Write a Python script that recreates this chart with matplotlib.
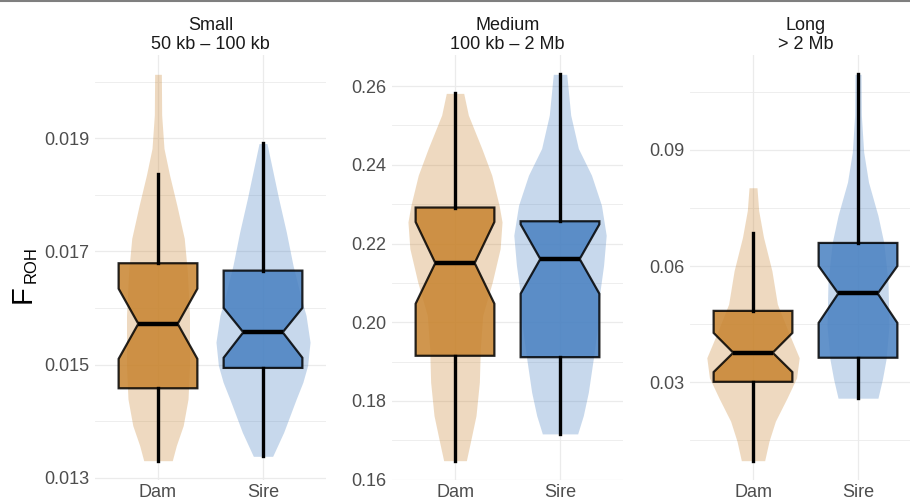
import matplotlib.pyplot as plt
from matplotlib.lines import Line2D
from matplotlib.ticker import AutoMinorLocator
import numpy as np

plt.rcParams['font.family'] = ['Liberation Sans', 'DejaVu Sans']

# facet titles and groups
panels = ["Small\n50 kb \u2013 100 kb", "Medium\n100 kb \u2013 2 Mb", "Long\n> 2 Mb"]
groups = ["Dam", "Sire"]

# notched box stats
small_dam = dict(q1=0.01458, med=0.01572, q3=0.01679, cilo=0.01510, cihi=0.01634, whislo=0.01330, whishi=0.01836)
small_sire = dict(q1=0.01494, med=0.01557, q3=0.01666, cilo=0.01512, cihi=0.01600, whislo=0.01338, whishi=0.01891)
medium_dam = dict(q1=0.19148, med=0.21504, q3=0.22914, cilo=0.20471, cihi=0.22547, whislo=0.16483, whishi=0.25814)
medium_sire = dict(q1=0.19112, med=0.21606, q3=0.22565, cilo=0.20725, cihi=0.22487, whislo=0.17163, whishi=0.26298)
long_dam = dict(q1=0.03008, med=0.0376, q3=0.04841, cilo=0.03259, cihi=0.04271, whislo=0.0097, whishi=0.06856)
long_sire = dict(q1=0.0363, med=0.0529, q3=0.06596, cilo=0.0453, cihi=0.0600, whislo=0.02585, whishi=0.10953)

# violin outlines: F_ROH level and half width (in category units)
small_dam_y = [0.01330, 0.01357, 0.01392, 0.01439, 0.01498, 0.01587, 0.01663, 0.01723, 0.01781, 0.01835, 0.01882, 0.01941, 0.02013]
small_dam_w = [0.136, 0.175, 0.24, 0.286, 0.30, 0.30, 0.28, 0.25, 0.18, 0.11, 0.057, 0.035, 0.032]
small_sire_y = [0.013377, 0.013802, 0.014393, 0.014687, 0.014982, 0.015395, 0.015867, 0.016163, 0.016752, 0.017342, 0.017933, 0.018906]
small_sire_w = [0.092, 0.197, 0.317, 0.38, 0.425, 0.448, 0.41, 0.365, 0.286, 0.222, 0.149, 0.038]
medium_dam_y = [0.16483, 0.16949, 0.17628, 0.18476, 0.19326, 0.20173, 0.2102, 0.2187, 0.22547, 0.22969, 0.23735, 0.24415, 0.25262, 0.25814]
medium_dam_w = [0.108, 0.146, 0.20, 0.232, 0.241, 0.264, 0.355, 0.43, 0.448, 0.42, 0.35, 0.255, 0.127, 0.083]
medium_sire_y = [0.17163, 0.17628, 0.18221, 0.19071, 0.19919, 0.20766, 0.21445, 0.22209, 0.22969, 0.23735, 0.24415, 0.25262, 0.26298]
medium_sire_w = [0.168, 0.222, 0.27, 0.317, 0.36, 0.38, 0.415, 0.44, 0.395, 0.30, 0.175, 0.102, 0.064]
long_dam_y = [0.0097, 0.0147, 0.01989, 0.02593, 0.03111, 0.0363, 0.04322, 0.05015, 0.05878, 0.06742, 0.07434, 0.08022]
long_dam_w = [0.111, 0.152, 0.213, 0.325, 0.415, 0.44, 0.333, 0.232, 0.18, 0.10, 0.054, 0.038]
long_sire_y = [0.02585, 0.0307, 0.03589, 0.04452, 0.05575, 0.06612, 0.07304, 0.08168, 0.08946, 0.09897, 0.10953]
long_sire_w = [0.19, 0.232, 0.267, 0.295, 0.286, 0.245, 0.19, 0.10, 0.054, 0.032, 0.029]

# y tick values per facet
small_ticks = [0.013, 0.015, 0.017, 0.019]
medium_ticks = [0.16, 0.18, 0.20, 0.22, 0.24, 0.26]
long_ticks = [0.03, 0.06, 0.09]
tick_fmt = ["%.3f", "%.2f", "%.2f"]

colors = {"Dam": "#C8842F", "Sire": "#4880C1"}

boxes = [[small_dam, small_sire], [medium_dam, medium_sire], [long_dam, long_sire]]
violins = [[(small_dam_y, small_dam_w), (small_sire_y, small_sire_w)],
           [(medium_dam_y, medium_dam_w), (medium_sire_y, medium_sire_w)],
           [(long_dam_y, long_dam_w), (long_sire_y, long_sire_w)]]
ticks = [small_ticks, medium_ticks, long_ticks]

fig = plt.figure(figsize=(9.1, 5), dpi=100)
lefts = [95 / 910, 392 / 910, 690 / 910]

for i in range(3):
    ax = fig.add_axes([lefts[i], 20 / 500, 231 / 910, 425 / 500])
    ax.set_axisbelow(True)
    allv = []
    for j, g in enumerate(groups):
        vy, vw = violins[i][j]
        vy = np.array(vy)
        vw = np.array(vw)
        allv += list(vy)
        ax.fill_betweenx(vy, j - vw, j + vw, color=colors[g], alpha=0.3, lw=0, zorder=1)
        st = dict(boxes[i][j])
        st["fliers"] = []
        ax.bxp([st], positions=[j], widths=0.75, shownotches=True, showcaps=False,
               showfliers=False, patch_artist=True,
               boxprops=dict(facecolor=colors[g], alpha=0.85, edgecolor="black", linewidth=1.6),
               whiskerprops=dict(color="black", linewidth=2.4),
               medianprops=dict(color="black", linewidth=3.2),
               zorder=2)
    # keep edge opaque while fill is transparent
    for p in ax.patches:
        p.set_edgecolor((0, 0, 0, 1))
    lo, hi = min(allv), max(allv)
    pad = (hi - lo) * 0.05
    ax.set_ylim(lo - pad, hi + pad)
    ax.set_xlim(-0.6, 1.6)
    ax.set_xticks([0, 1])
    ax.set_xticklabels(groups)
    ax.set_yticks(ticks[i])
    ax.set_yticklabels([tick_fmt[i] % t for t in ticks[i]])
    ax.yaxis.set_minor_locator(AutoMinorLocator(2))
    ax.grid(True, which="major", color="#EBEBEB", linewidth=0.9)
    ax.grid(True, which="minor", axis="y", color="#EBEBEB", linewidth=0.6)
    ax.tick_params(which="both", length=0, labelsize=13, labelcolor="#4D4D4D")
    ax.tick_params(axis="y", pad=4)
    ax.tick_params(axis="x", pad=3)
    for s in ax.spines.values():
        s.set_visible(False)
    ax.set_title(panels[i], fontsize=13, color="#1A1A1A", pad=4, linespacing=1.15)

# y axis title: F with subscript ROH
fig.text(22.5 / 910, 1 - 303 / 500, "F", rotation=90, fontsize=21,
         ha="center", va="bottom", color="black")
fig.text(31 / 910, 1 - 283 / 500, "ROH", rotation=90, fontsize=12,
         ha="center", va="bottom", color="black")

fig.add_artist(Line2D([0, 1], [0.999, 0.999], color="#7F7F7F", linewidth=1.5))

fig.savefig("out.png", dpi=100)
